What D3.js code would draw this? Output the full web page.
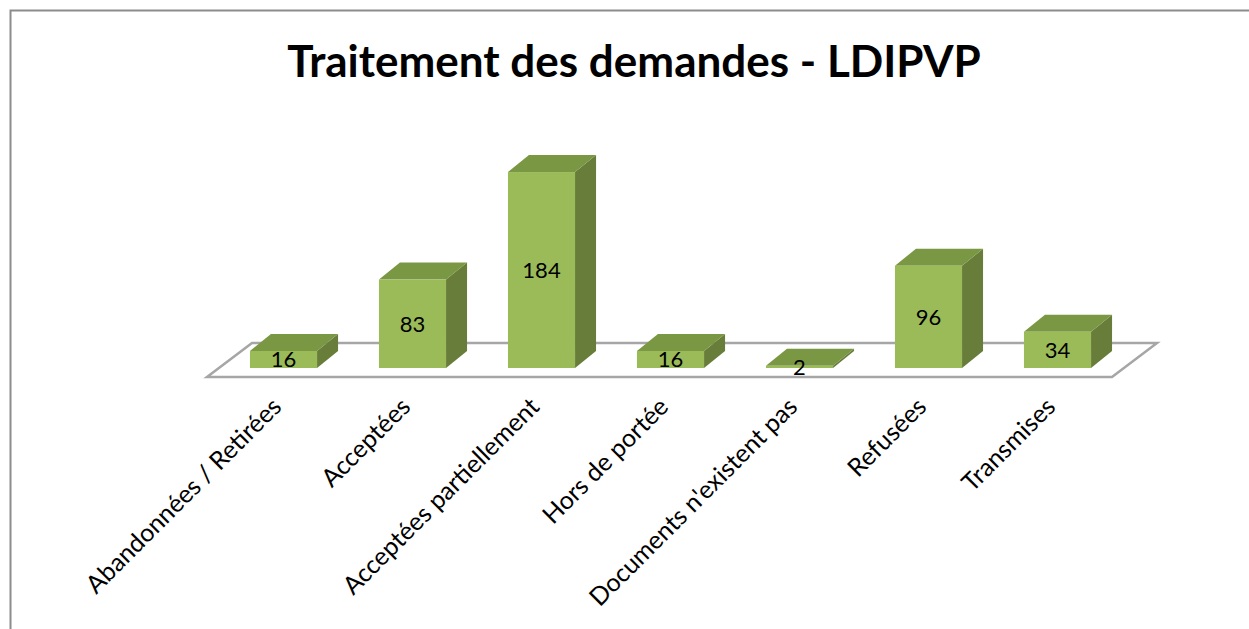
<!DOCTYPE html>
<html>
<head>
<meta charset="utf-8">
<script src="https://cdn.jsdelivr.net/npm/d3@7"></script>
<style>
  body { margin: 0; background: white; }
  svg { display: block; }
</style>
</head>
<body>
<div id="chart"></div>
<script>
const categories = ['Abandonnées / Retirées', 'Acceptées', 'Acceptées partiellement', 'Hors de portée',
                    "Documents n'existent pas", 'Refusées', 'Transmises'];
const values = [16, 83, 184, 16, 2, 96, 34];
const chartTitle = 'Traitement des demandes - LDIPVP';

let dim = { 'width': 1249, 'height': 629 };

let svg = d3.select('#chart').append('svg')
    .attr('width', dim.width)
    .attr('height', dim.height);

// outer frame (only top & left visible)
svg.append('path')
    .attr('d', 'M10.5,640 L10.5,10.5 L1260,10.5')
    .attr('fill', 'none')
    .attr('stroke', '#8c8c8c')
    .attr('stroke-width', 2);

svg.append('text')
    .attr('x', 634)
    .attr('y', 77)
    .attr('text-anchor', 'middle')
    .attr('font-family', 'Lato, sans-serif')
    .attr('font-weight', 'bold')
    .attr('font-size', 44)
    .attr('fill', '#000')
    .text(chartTitle);

let x = d3.scaleBand()
    .domain(categories)
    .range([219, 1122])
    .paddingInner(0.48)
    .paddingOuter(0.24);

let base = 368;
let y = d3.scaleLinear().domain([0, 200]).range([base, base - 213]);

// depth of the bars and of the floor
let dx = 21, dy = -17;
let fdx = 45, fdy = -34;

// floor
let fl = 207, fr = 1112, ff = 377;
svg.append('path')
    .attr('d', `M${fl},${ff} L${fl + fdx},${ff + fdy} L${fr + fdx},${ff + fdy} L${fr},${ff} Z`)
    .attr('fill', 'white')
    .attr('stroke', '#a6a6a6')
    .attr('stroke-width', 2.5);

let bars = svg.append('g').selectAll('g')
    .data(values)
    .join('g');

// side face
bars.append('path')
    .attr('d', (d, i) => {
        let x1 = x(categories[i]) + x.bandwidth();
        let t = y(d);
        return `M${x1},${t} L${x1 + dx},${t + dy} L${x1 + dx},${base + dy} L${x1},${base} Z`;
    })
    .attr('fill', '#677d39');

// top face
bars.append('path')
    .attr('d', (d, i) => {
        let x0 = x(categories[i]);
        let x1 = x0 + x.bandwidth();
        let t = y(d);
        return `M${x0},${t} L${x0 + dx},${t + dy} L${x1 + dx},${t + dy} L${x1},${t} Z`;
    })
    .attr('fill', '#7a9743');

// front face
bars.append('rect')
    .attr('x', (d, i) => x(categories[i]))
    .attr('y', d => y(d))
    .attr('width', x.bandwidth())
    .attr('height', d => base - y(d))
    .attr('fill', '#9bbb59');

// value labels
bars.append('text')
    .attr('x', (d, i) => x(categories[i]) + x.bandwidth() / 2)
    .attr('y', d => (y(d) + base) / 2)
    .attr('dy', '0.36em')
    .attr('text-anchor', 'middle')
    .attr('font-family', 'Lato, sans-serif')
    .attr('font-size', 22)
    .attr('fill', '#000')
    .text(d => d);

// category axis
let axis = svg.append('g')
    .attr('transform', 'translate(0,396)')
    .call(d3.axisBottom(x).tickSize(0).tickPadding(0));
axis.select('.domain').remove();
axis.selectAll('text')
    .attr('font-family', 'Lato, sans-serif')
    .attr('font-size', 25)
    .attr('fill', '#000')
    .attr('text-anchor', 'end')
    .attr('dy', '0.7em')
    .attr('transform', 'translate(-13,0) rotate(-45)');
</script>
</body>
</html>
